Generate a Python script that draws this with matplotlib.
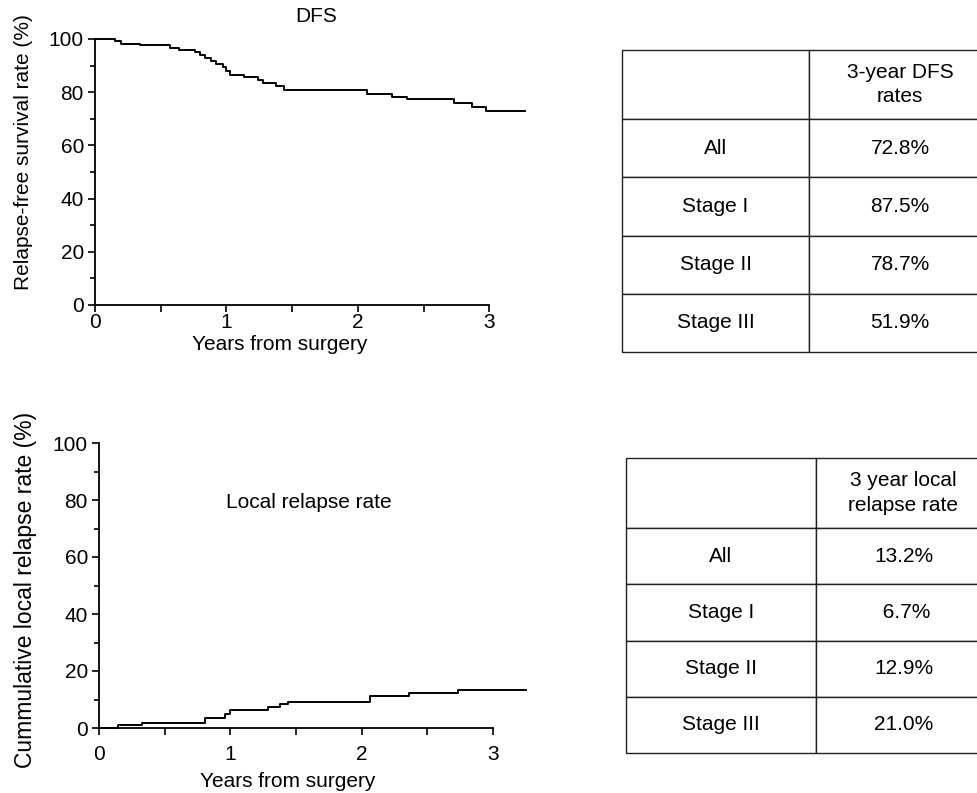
import numpy as np
import matplotlib
matplotlib.use("Agg")
import matplotlib.pyplot as plt
from matplotlib import ticker

plt.rcParams['font.family'] = ['Liberation Sans', 'DejaVu Sans']

# ======== data ========#
# DFS Kaplan-Meier steps: value holds from dfs_t[i] until the next time
dfs_t = [0, 0.15, 0.20, 0.34, 0.57, 0.64, 0.76, 0.80, 0.835, 0.88, 0.92, 0.97,
         1.0, 1.03, 1.13, 1.24, 1.28, 1.38, 1.44, 2.07, 2.26, 2.37, 2.73, 2.87, 2.97]
dfs_v = [100, 99.2, 98.3, 97.6, 96.8, 96.0, 95.0, 93.8, 92.8, 91.8, 90.7, 89.6,
         88.0, 86.6, 85.7, 84.4, 83.4, 82.3, 81.0, 79.3, 78.2, 77.3, 75.9, 74.5, 72.8]
dfs_end = 3.27

# cumulative local relapse steps
lr_t = [0, 0.145, 0.33, 0.81, 0.96, 1.0, 1.29, 1.38, 1.44, 2.06, 2.36, 2.73]
lr_v = [0, 0.9, 1.9, 3.5, 5.0, 6.4, 7.4, 8.3, 9.1, 11.3, 12.2, 13.2]
lr_end = 3.25

groups = ['All', 'Stage I', 'Stage II', 'Stage III']
dfs_rates = ['72.8%', '87.5%', '78.7%', '51.9%']
lr_rates = ['13.2%', ' 6.7%', '12.9%', '21.0%']

W, H = 978.0, 793.0
fig = plt.figure(figsize=(W / 100, H / 100), dpi=100)
fs = 15


def px_axes(x0, x1, ytop, ybot):
	# axes placed in pixel coordinates of the figure
	return fig.add_axes([x0 / W, 1 - ybot / H, (x1 - x0) / W, (ybot - ytop) / H])


def km_axes(ax, t, v, tend, ylab, ylfs, tpad):
	ax.step(list(t) + [tend], list(v) + [v[-1]], where='post', color='k', lw=1.4,
		clip_on=False)
	ax.set_xlim(0, tend)
	ax.set_ylim(0, 100)
	for s in ['top', 'right']:
		ax.spines[s].set_visible(False)
	ax.spines['left'].set_bounds(0, 100)
	ax.spines['bottom'].set_bounds(0, 3)
	for s in ['left', 'bottom']:
		ax.spines[s].set_linewidth(1.3)
	ax.set_xticks([0, 1, 2, 3])
	ax.xaxis.set_minor_locator(ticker.FixedLocator([0.5, 1.5, 2.5]))
	ax.set_yticks([0, 20, 40, 60, 80, 100])
	ax.yaxis.set_minor_locator(ticker.FixedLocator([10, 30, 50, 70, 90]))
	ax.tick_params(which='major', direction='out', length=5, width=1.2, labelsize=fs, pad=3)
	ax.tick_params(axis='x', which='major', pad=tpad)
	ax.tick_params(axis='x', which='minor', direction='out', length=5, width=1.2)
	ax.tick_params(axis='y', which='minor', direction='out', length=3.5, width=1.2)
	ax.set_xlabel('Years from surgery', fontsize=fs)
	ax.set_ylabel(ylab, fontsize=ylfs)
	ax.patch.set_alpha(0)


ax1 = px_axes(95, 525, 39, 305)
km_axes(ax1, dfs_t, dfs_v, dfs_end, 'Relapse-free survival rate (%)', fs, 1)
ax1.xaxis.set_label_coords(0.43, -0.112)
ax1.yaxis.set_label_coords(-0.145, 0.575)
ax1.text(1.68, 108.5, 'DFS', ha='center', va='center', fontsize=fs)

ax2 = px_axes(99, 526, 443, 728)
km_axes(ax2, lr_t, lr_v, lr_end, 'Cummulative local relapse rate (%)', 16.5, 7)
ax2.xaxis.set_label_coords(0.443, -0.155)
ax2.yaxis.set_label_coords(-0.145, 0.484)
ax2.text(1.6, 79, 'Local relapse rate', ha='center', va='center', fontsize=fs)


def rate_table(x0, xdiv, ytop, ybot, head, vals, hh, rh):
	ax = px_axes(x0, 991, ytop, ybot)
	ax.axis('off')
	rows = [['', head]] + [[g, r] for g, r in zip(groups, vals)]
	tab = ax.table(cellText=rows, cellLoc='center', bbox=[0, 0, 1, 1])
	tab.auto_set_font_size(False)
	for (r, c), cell in tab.get_celld().items():
		cell.set_height(hh if r == 0 else rh)
		cell.set_width((xdiv - x0) if c == 0 else (991 - xdiv))
		cell.set_linewidth(1.0)
		cell.set_edgecolor('#222222')
		cell.get_text().set_fontsize(fs)
		cell.get_text().set_linespacing(1.35)
	return tab


rate_table(622, 809, 50, 352, '3-year DFS\nrates', dfs_rates, 69, 58)
rate_table(626, 816, 458, 753, '3 year local\nrelapse rate', lr_rates, 70, 56)

fig.savefig('out.png', dpi=100)
